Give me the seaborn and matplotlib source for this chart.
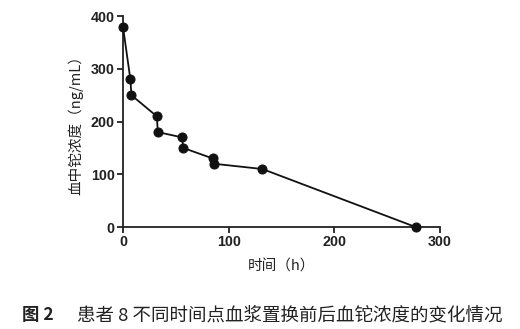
import matplotlib
matplotlib.use("Agg")
import matplotlib.pyplot as plt
import seaborn as sns
import pandas as pd

time_h = [0, 7, 8, 32, 33, 56, 57, 85, 86, 132, 277]
conc = [380, 280, 250, 210, 180, 170, 150, 130, 120, 110, 0]
x_ticks = [0, 100, 200, 300]
y_ticks = [0, 100, 200, 300, 400]

sns.set_style("ticks")
plt.rcParams['font.family'] = ['Noto Sans CJK SC', 'DejaVu Sans']

df = pd.DataFrame({"t": time_h, "c": conc})

fig = plt.figure(figsize=(5.2, 3.29), dpi=100)
ax = fig.add_axes([0.2365, 0.31, 0.6095, 0.641])
sns.lineplot(data=df, x="t", y="c", sort=False, ax=ax, color="#111111",
             linewidth=1.3, marker="o", markersize=6.5, markeredgecolor="#111111",
             clip_on=False, zorder=3)
ax.set_xlim(0, 300)
ax.set_ylim(0, 400)
ax.set_xticks(x_ticks)
ax.set_yticks(y_ticks)
for s in ["top", "right"]:
    ax.spines[s].set_visible(False)
for s in ["left", "bottom"]:
    ax.spines[s].set_linewidth(1.3)
    ax.spines[s].set_color("#222222")
ax.tick_params(axis="both", direction="out", length=4, width=1.3, color="#222222", pad=2)
for lab in ax.get_xticklabels() + ax.get_yticklabels():
    lab.set_fontfamily(["Liberation Sans", "DejaVu Sans"])
    lab.set_fontweight("bold")
    lab.set_fontsize(10.3)
    lab.set_color("#222222")
ax.set_xlabel("时间（h）", fontsize=10.5, color="#222222", labelpad=7)
ax.set_ylabel("血中铊浓度（ng/mL）", fontsize=10.5, color="#222222", labelpad=5)

fig.text(0.042, 0.0426, "图 2", fontsize=12.5, fontweight="bold", color="#222222", va="center")
fig.text(0.148, 0.0426, "患者 8 不同时间点血浆置换前后血铊浓度的变化情况", fontsize=13.3,
         color="#222222", va="center")

fig.savefig("out.png", dpi=100)
